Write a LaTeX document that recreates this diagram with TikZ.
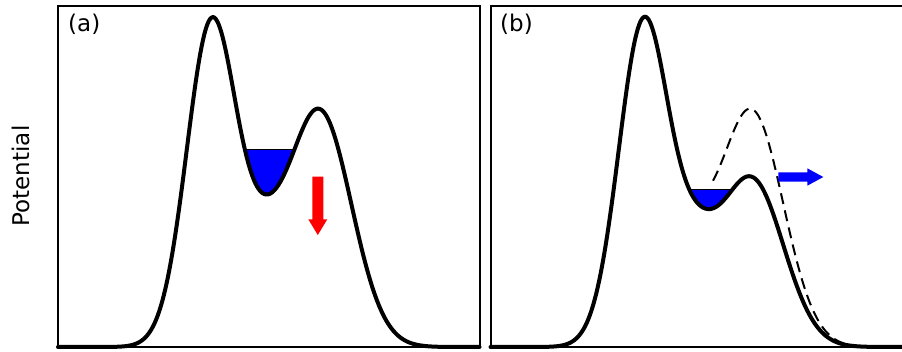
\documentclass[tikz,border=0pt]{standalone}
\usepackage{fontspec}
\setmainfont{DejaVu Sans}
\begin{document}
\begin{tikzpicture}[x=1pt,y=-1pt,
  declare function={
    ga(\u)=exp(-min(\u*\u,40)/2);
    Va(\x)=324*ga((\x-211.7)/25)+64*ga((\x-262)/22)+236*ga((\x-319.3)/32);
    Vb(\x)=324*ga((\x-211.7)/25)+72*ga((\x-262)/22)+168*ga((\x-319.3)/32);
  },
  frame/.style={line width=2pt, black},
  pot/.style={line width=4pt, black, line join=round, line cap=round},
  ghost/.style={line width=2pt, black, dash pattern=on 11pt off 6.5pt},
  level/.style={line width=1pt, black},
  lab/.style={font=\fontsize{23}{27}\selectfont, inner sep=0pt}
]
\useasboundingbox (0,0) rectangle (902,351);

% frames
\draw[frame] (58,5.5) rectangle (479.5,347);
\draw[frame] (905,5.5) -- (490.5,5.5) -- (490.5,347) -- (905,347);

% panel (a)
\begin{scope}
  \clip plot[domain=228:319.3, samples=120] (\x,{347-Va(\x)}) -- (319.3,0) -- (228,0) -- cycle;
  \fill[blue] (228,149.3) rectangle (320,347);
  \draw[level] (228,149.3) -- (320,149.3);
\end{scope}
\draw[pot] plot[domain=58:479.5, samples=300] (\x,{347-Va(\x)});
\fill[red] (312.3,176.7) -- (323.3,176.7) -- (323.3,219.3) -- (327.3,219.3)
  -- (317.8,235) -- (308.3,219.3) -- (312.3,219.3) -- cycle;

% panel (b)
\begin{scope}[xshift=432pt]
  \begin{scope}
    \clip plot[domain=236:316, samples=120] (\x,{347-Vb(\x)}) -- (316,0) -- (236,0) -- cycle;
    \fill[blue] (236,189) rectangle (317,347);
    \draw[level] (236,189) -- (317,189);
  \end{scope}
  \draw[ghost] plot[domain=281:470, samples=160] (\x,{347-Va(\x)});
  \draw[pot] plot[domain=58.5:470, samples=300] (\x,{347-Vb(\x)});
\end{scope}
\fill[blue] (778.3,172.3) -- (807.3,172.3) -- (807.3,168.3) -- (823.3,177)
  -- (807.3,185.7) -- (807.3,181.7) -- (778.3,181.7) -- cycle;

% labels
\node[lab, anchor=base west] (la) at (68,31) {(a)};
\node[lab, anchor=base west] (lb) at (500,31) {(b)};
\node[lab, rotate=90] (ylab) at (21,176) {Potential};
\end{tikzpicture}
\end{document}
